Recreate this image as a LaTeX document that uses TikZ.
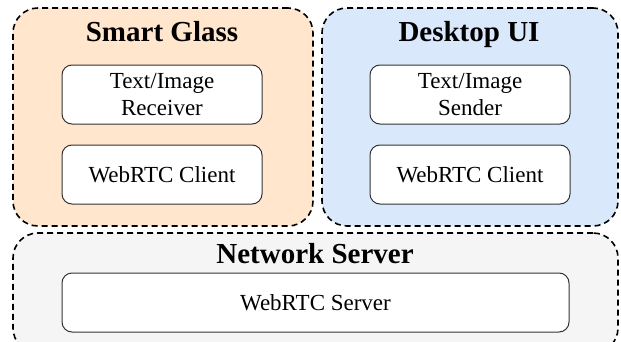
\documentclass[tikz,border=0pt]{standalone}
\usepackage{fontspec}
\setmainfont{Liberation Serif}
\usetikzlibrary{positioning}
\definecolor{glassfill}{RGB}{255,230,204}
\definecolor{deskfill}{RGB}{218,232,252}
\definecolor{netfill}{RGB}{245,245,245}

\begin{document}
\begin{tikzpicture}[x=1pt,y=1pt,
	group node/.style={draw,line width=1.6pt,dash pattern=on 6pt off 4pt,rounded corners=25pt,inner sep=0pt,outer sep=0pt},
	part node/.style={draw=black!80,line width=1pt,fill=white,rounded corners=10pt,align=center,inner sep=0pt,minimum width=200pt,minimum height=59pt,font=\fontsize{23}{27}\selectfont},
	title node/.style={anchor=base,inner sep=0pt,font=\fontsize{29}{32}\selectfont\bfseries}]
	\useasboundingbox (0,0) rectangle (621,341);
	% the three groups
	\node[group node,fill=glassfill,minimum width=300pt,minimum height=218pt] (glass) at (163,224) {};
	\node[group node,fill=deskfill,minimum width=296pt,minimum height=218pt] (desk) at (470,224) {};
	\node[group node,fill=netfill,minimum width=605pt,minimum height=120pt] (net) at (315.5,48) {};

	\node[title node] (glasstitle) at (162,300) {Smart Glass};
	\node[title node] (desktitle) at (469,300) {Desktop UI};
	\node[title node] (nettitle) at (315,78) {Network Server};

	% parts
	\node[part node] (recv) at (162,246.5) {Text/Image\\Receiver};
	\node[part node,below=20pt of recv] (glassclient) {WebRTC Client};
	\node[part node] (send) at (470,246.5) {Text/Image\\Sender};
	\node[part node,below=20pt of send] (deskclient) {WebRTC Client};
	\node[part node,minimum width=507pt] (server) at (315.5,38.5) {WebRTC Server};
\end{tikzpicture}
\end{document}
